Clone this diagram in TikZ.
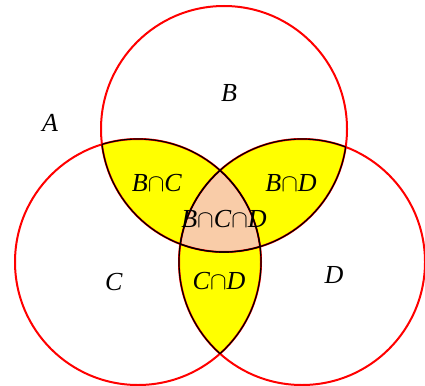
\documentclass[tikz,border=0pt]{standalone}
\usepackage{fontspec}
\setmainfont{Liberation Serif}
\usepackage{tikz}
\definecolor{lensYel}{RGB}{255,255,0}
\definecolor{coreRose}{RGB}{249,204,168}
\definecolor{ringRed}{RGB}{255,0,0}

\begin{document}
\begin{tikzpicture}[
  x=1pt, y=-1pt,
  ring/.style={draw=ringRed, line width=2pt},
  edge/.style={draw=black, line width=1.2pt},
  lab/.style={font=\fontsize{26}{28}\selectfont, inner sep=1pt}
]
  \useasboundingbox (0,0) rectangle (425,385);
  \def\rad{123}
  \coordinate (cB) at (224,129);
  \coordinate (cC) at (138,262);
  \coordinate (cD) at (302,262);

  % pairwise overlaps
  \begin{scope}
    \clip (cB) circle (\rad);
    \fill[lensYel] (cC) circle (\rad);
    \fill[lensYel] (cD) circle (\rad);
  \end{scope}
  \begin{scope}
    \clip (cC) circle (\rad);
    \fill[lensYel] (cD) circle (\rad);
  \end{scope}
  % triple overlap
  \begin{scope}
    \clip (cB) circle (\rad);
    \clip (cC) circle (\rad);
    \fill[coreRose] (cD) circle (\rad);
  \end{scope}

  % the three sets
  \draw[ring] (cB) circle (\rad);
  \draw[ring] (cC) circle (\rad);
  \draw[ring] (cD) circle (\rad);

  % black borders of the overlaps
  \begin{scope}
    \clip (cB) circle (\rad);
    \draw[edge] (cC) circle (\rad);
    \draw[edge] (cD) circle (\rad);
  \end{scope}
  \begin{scope}
    \clip (cC) circle (\rad);
    \draw[edge] (cB) circle (\rad);
    \draw[edge] (cD) circle (\rad);
  \end{scope}
  \begin{scope}
    \clip (cD) circle (\rad);
    \draw[edge] (cB) circle (\rad);
    \draw[edge] (cC) circle (\rad);
  \end{scope}

  % labels
  \node[lab] (lA) at (50,123) {\textit{A}};
  \node[lab] (lB) at (229,93) {\textit{B}};
  \node[lab] (lC) at (114,282) {\textit{C}};
  \node[lab] (lD) at (334,275) {\textit{D}};
  \node[lab] (lBC) at (157,183) {\textit{B}$\cap$\textit{C}};
  \node[lab] (lBD) at (291,183) {\textit{B}$\cap$\textit{D}};
  \node[lab] (lCD) at (219,281) {\textit{C}$\cap$\textit{D}};
  \node[lab] (lBCD) at (224,219) {\textit{B}$\cap$\textit{C}$\cap$\textit{D}};
\end{tikzpicture}
\end{document}
